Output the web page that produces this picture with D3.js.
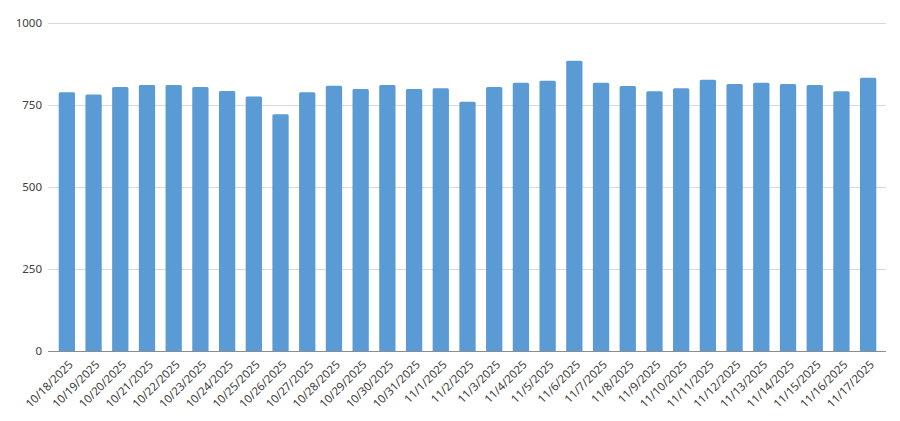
<!DOCTYPE html>
<html>
<head>
<meta charset="utf-8">
<script src="https://cdn.jsdelivr.net/npm/d3@7"></script>
<style>
  body { margin: 0; background: #fff; }
  svg { display: block; }
  .tick text { font-family: "Noto Sans", "Liberation Sans", sans-serif; fill: #404040; }
</style>
</head>
<body>
<svg id="chart" width="900" height="421"></svg>
<script>
// dates shown on the x axis
const dates = [
  "10/18/2025", "10/19/2025", "10/20/2025", "10/21/2025", "10/22/2025", "10/23/2025",
  "10/24/2025", "10/25/2025", "10/26/2025", "10/27/2025", "10/28/2025", "10/29/2025",
  "10/30/2025", "10/31/2025", "11/1/2025", "11/2/2025", "11/3/2025", "11/4/2025",
  "11/5/2025", "11/6/2025", "11/7/2025", "11/8/2025", "11/9/2025", "11/10/2025",
  "11/11/2025", "11/12/2025", "11/13/2025", "11/14/2025", "11/15/2025", "11/16/2025",
  "11/17/2025"
];

// daily values
const values = [
  789, 782, 805, 811, 811, 805, 793, 776, 722, 789, 809, 799, 811, 799, 801,
  760, 805, 818, 824, 885, 818, 808, 792, 801, 827, 814, 818, 814, 811, 792, 833
];

const yTicks = [0, 250, 500, 750, 1000];

const svg = d3.select("#chart");

// plot area
const MARGIN = { left: 48, right: 886, top: 23, bottom: 351 };

const x = d3.scaleBand()
  .domain(dates)
  .range([53.5, 881.5])
  .paddingInner(0.39)
  .paddingOuter(0.195);

const y = d3.scaleLinear()
  .domain([0, 1000])
  .range([MARGIN.bottom, MARGIN.top]);

// horizontal gridlines
svg.append("g")
  .selectAll("line")
  .data(yTicks.filter(d => d > 0))
  .join("line")
  .attr("x1", MARGIN.left)
  .attr("x2", MARGIN.right)
  .attr("y1", d => y(d) + 0.5)
  .attr("y2", d => y(d) + 0.5)
  .attr("stroke", "#d9d9d9")
  .attr("stroke-width", 1);

// y axis labels (no axis line, no ticks)
const yAxis = svg.append("g")
  .attr("transform", `translate(${MARGIN.left - 4},0)`)
  .call(d3.axisLeft(y).tickValues(yTicks).tickFormat(d3.format("d")).tickSize(0).tickPadding(2));
yAxis.select(".domain").remove();
yAxis.selectAll("text").style("font-size", "11.5px");

// bars
svg.append("g")
  .selectAll("rect")
  .data(values)
  .join("rect")
  .attr("x", (d, i) => x(dates[i]))
  .attr("y", d => y(d))
  .attr("width", x.bandwidth())
  .attr("height", d => y(0) - y(d) + 1)
  .attr("rx", 1.5)
  .attr("fill", "#5b9bd5");

// x axis
const xAxis = svg.append("g")
  .attr("transform", `translate(0,${MARGIN.bottom + 0.5})`)
  .call(d3.axisBottom(x).tickSize(0).tickPadding(0));
xAxis.select(".domain")
  .attr("d", `M${MARGIN.left},0H${MARGIN.right}`)
  .attr("stroke", "#8c8c8c")
  .attr("stroke-width", 1.2);
xAxis.selectAll("text")
  .style("font-size", "11.5px")
  .attr("text-anchor", "end")
  .attr("dy", "0.35em")
  .attr("transform", "translate(4,11) rotate(-45)");
</script>
</body>
</html>
